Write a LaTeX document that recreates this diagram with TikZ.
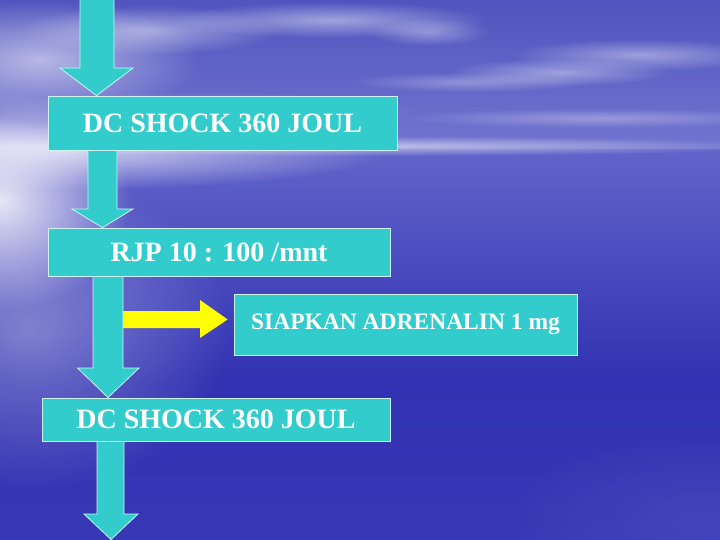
\documentclass[tikz,border=0pt]{standalone}
\usepackage{fontspec}
\setmainfont{Liberation Serif}
\usetikzlibrary{fadings,calc}
\tikzfading[name=fuzzy, inner color=transparent!0, outer color=transparent!100]
\definecolor{turq}{RGB}{51,204,204}
\definecolor{skytop}{RGB}{80,84,190}
\definecolor{skylow}{RGB}{115,117,208}
\definecolor{seatop}{RGB}{98,100,202}
\definecolor{seamid}{RGB}{50,50,178}
\definecolor{seabottom}{RGB}{55,56,182}
\definecolor{arrowyellow}{RGB}{255,255,0}
\begin{document}
\begin{tikzpicture}[x=1pt,y=-1pt,
  box/.style={draw=white!75!turq, line width=0.8pt, fill=turq, text=white, inner sep=0pt, font=\bfseries\fontsize{28}{31}\selectfont},
  smallbox/.style={box, font=\bfseries\fontsize{23.5}{26}\selectfont},
  blockarrow/.style={fill=turq, draw=white!75!turq, line width=0.8pt, line join=miter},
  yarrow/.style={fill=arrowyellow, draw=none},
  cloud/.style={fill=white, path fading=fuzzy}]
\useasboundingbox (0,0) rectangle (720,540);
% background: sky and sea
\shade[top color=skytop, bottom color=skylow] (0,0) rectangle (720,150);
\shade[top color=seatop, bottom color=seamid] (0,150) rectangle (720,380);
\shade[top color=seamid, bottom color=seabottom] (0,380) rectangle (720,540);
% clouds
\fill[cloud, opacity=0.45] (330,20) ellipse [x radius=160, y radius=18];
\fill[cloud, opacity=0.35] (430,32) ellipse [x radius=60, y radius=14];
\fill[cloud, opacity=0.40] (640,55) ellipse [x radius=130, y radius=16];
\fill[cloud, opacity=0.40] (560,72) ellipse [x radius=110, y radius=14];
\fill[cloud, opacity=0.30] (470,82) ellipse [x radius=120, y radius=10];
\fill[cloud, opacity=0.30] (600,118) ellipse [x radius=200, y radius=10];
\fill[cloud, opacity=0.35] (200,110) ellipse [x radius=220, y radius=18];
\fill[cloud, opacity=0.55] (40,60) ellipse [x radius=160, y radius=60];
\fill[cloud, opacity=0.45] (150,30) ellipse [x radius=130, y radius=25];
% horizon haze
\fill[cloud, opacity=0.55] (360,146) ellipse [x radius=420, y radius=10];
\fill[cloud, opacity=0.70] (60,150) ellipse [x radius=330, y radius=40];
% sun reflection on the left
\fill[cloud, opacity=0.85] (0,200) ellipse [x radius=130, y radius=110];
\fill[cloud, opacity=0.35] (30,330) ellipse [x radius=200, y radius=160];
\fill[cloud, opacity=0.07] (700,520) ellipse [x radius=200, y radius=90];
% boxes
\node[box, minimum width=349pt, minimum height=54pt] (b1) at (222.5,123) {DC SHOCK 360 JOUL};
\node[box, minimum width=342pt, minimum height=48pt] (b2) at (219,252) {RJP 10 : 100 /mnt};
\node[smallbox, minimum width=343pt, minimum height=61pt] (b3) at (405.5,324.5) {SIAPKAN ADRENALIN 1 mg};
\node[box, minimum width=348pt, minimum height=43pt] (b4) at (216,419.5) {DC SHOCK 360 JOUL};
\coordinate (bottom) at (111,539.5);
% block arrows
\draw[blockarrow] (80,-1) -- (114,-1) -- (114,68) -- (133,68) -- (96.5,0 |- b1.north) -- (60,68) -- (80,68) -- cycle;
\draw[blockarrow] (88,0 |- b1.south) -- (117,0 |- b1.south) -- (117,209) -- (133,209) -- (102.5,0 |- b2.north) -- (72,209) -- (88,209) -- cycle;
\draw[blockarrow] (93,0 |- b2.south) -- (123,0 |- b2.south) -- (123,368) -- (139,368) -- (108,0 |- b4.north) -- (77.5,368) -- (93,368) -- cycle;
\draw[blockarrow] (97,0 |- b4.south) -- (124,0 |- b4.south) -- (124,514) -- (138,514) -- (bottom) -- (84,514) -- (97,514) -- cycle;
\fill[yarrow] (123,311) -- (200,311) -- (200,300) -- ($(b3.west)+(-6,-5)$) -- (200,338) -- (200,328) -- (123,328) -- cycle;
% boxes on top of the arrow ends
\node[box, minimum width=349pt, minimum height=54pt] at (b1) {DC SHOCK 360 JOUL};
\node[box, minimum width=342pt, minimum height=48pt] at (b2) {RJP 10 : 100 /mnt};
\node[smallbox, minimum width=343pt, minimum height=61pt] at (b3) {SIAPKAN ADRENALIN 1 mg};
\node[box, minimum width=348pt, minimum height=43pt] at (b4) {DC SHOCK 360 JOUL};
\end{tikzpicture}
\end{document}
